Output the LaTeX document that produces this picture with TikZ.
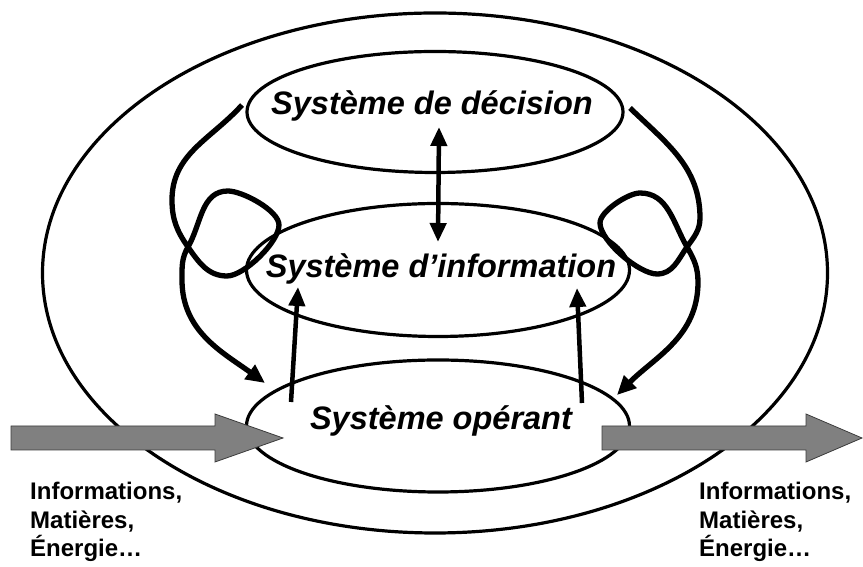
\documentclass[tikz,border=0pt]{standalone}
\usepackage{fontspec}
\setmainfont{Liberation Sans}
\usetikzlibrary{arrows.meta,shapes.geometric}
\definecolor{flowgray}{RGB}{128,128,128}
\definecolor{flowedge}{RGB}{60,60,60}
\begin{document}
\begin{tikzpicture}[x=1pt,y=1pt,
  ring/.style={draw=black, line width=3.2pt, ellipse, inner sep=0pt},
  systext/.style={font=\fontsize{32.5}{38}\selectfont\bfseries\itshape, anchor=base, inner sep=0pt},
  flowtext/.style={font=\fontsize{24}{28.5}\selectfont\bfseries, align=left, anchor=north west, inner sep=0pt},
  feed/.style={line width=5.3pt, -{Triangle[length=19pt,width=17pt]}},
  vertarrow/.style={line width=4.5pt, -{Triangle[length=19pt,width=16pt]}},
  dblarrow/.style={line width=4.5pt, {Triangle[length=19pt,width=16pt]}-{Triangle[length=19pt,width=16pt]}},
  bigarrow/.style={fill=flowgray, draw=flowedge, line width=0.8pt}
]
\useasboundingbox (0,0) rectangle (863,567);

% ellipses
\node[ring, minimum width=785pt, minimum height=520pt] (env) at (435,294) {};
\node[ring, minimum width=376pt, minimum height=121pt] (dec) at (435,455) {};
\node[ring, minimum width=383pt, minimum height=133pt] (info) at (438,297) {};
\node[ring, minimum width=383pt, minimum height=132pt] (op) at (438,141) {};

% feedback loops
\coordinate (lstart) at (242,462);
\coordinate (lend) at (265,184);
\draw[feed] (lstart) to[out=228,in=90] (172,367)
  to[out=270,in=125] (188,320)
  to[out=305,in=180] (227,291)
  to[out=0,in=270,looseness=0.6] (279,342)
  to[out=90,in=0,looseness=0.6] (228,376)
  to[out=180,in=60] (188,320)
  to[out=240,in=90] (182,287)
  to[out=270,in=144] (lend);

\coordinate (rstart) at (630,459);
\coordinate (rend) at (617,172);
\draw[feed] (rstart) to[out=316,in=90] (700,349)
  to[out=270,in=55] (687,320)
  to[out=235,in=0] (657,293)
  to[out=180,in=270,looseness=0.6] (600,344)
  to[out=90,in=180,looseness=0.6] (640,374)
  to[out=0,in=120] (687,320)
  to[out=300,in=90] (698,285)
  to[out=270,in=45] (rend);

% vertical arrows
\coordinate (dtop) at (439,440);
\coordinate (ibot) at (438,325);
\draw[dblarrow] (dtop) -- (ibot);
\coordinate (la0) at (291,165);
\coordinate (la1) at (298,280);
\draw[vertarrow] (la0) -- (la1);
\coordinate (ra0) at (582,164);
\coordinate (ra1) at (577,279);
\draw[vertarrow] (ra0) -- (ra1);

% flow arrows
\draw[bigarrow] (11,141) -- (215,141) -- (215,153) -- (283,129) -- (215,105) -- (215,117) -- (11,117) -- cycle;
\draw[bigarrow] (602,141) -- (806,141) -- (806,153) -- (862,129) -- (806,105) -- (806,117) -- (602,117) -- cycle;

% texts
\node[systext] (dectext) at (432,452) {Système de décision};
\node[systext] (infotext) at (441,289) {Système d’information};
\node[systext] (optext) at (441,137) {Système opérant};

\node[flowtext] (inlabel) at (30,85) {Informations,\\Matières,\\Énergie…};
\node[flowtext] (outlabel) at (699,85) {Informations,\\Matières,\\Énergie…};
\end{tikzpicture}
\end{document}
